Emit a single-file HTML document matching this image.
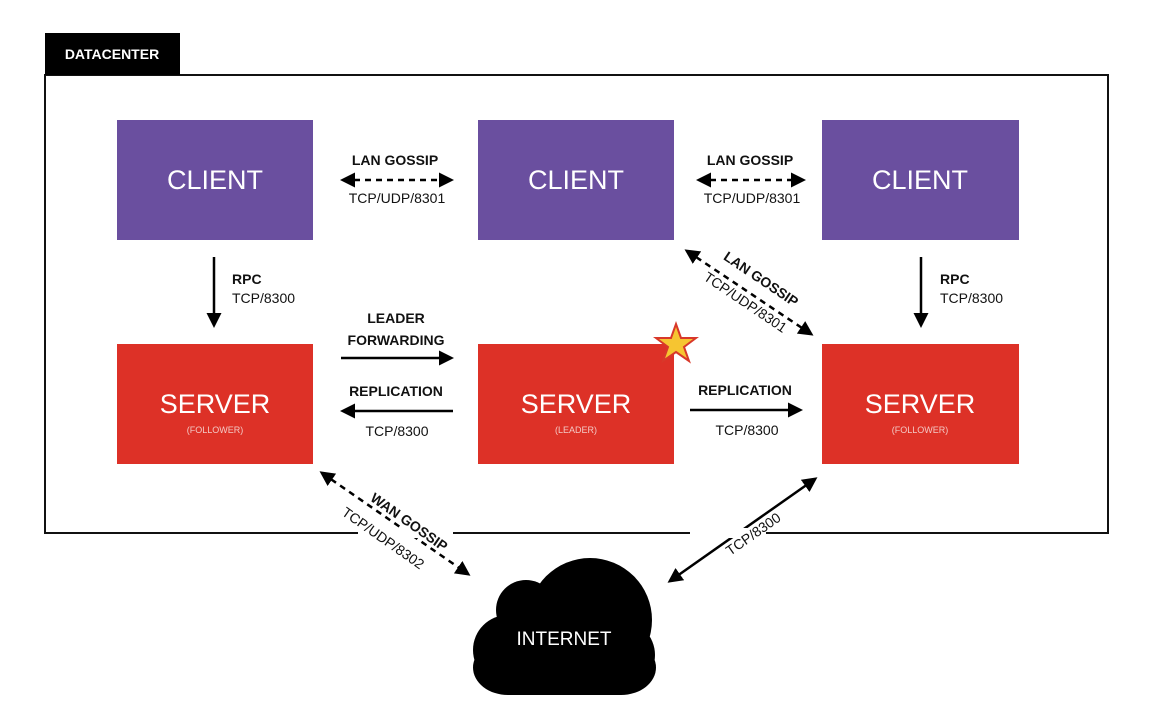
<!DOCTYPE html>
<html><head><meta charset="utf-8"><style>
html,body{margin:0;padding:0;background:#fff;}
svg{display:block;}
text{font-family:"Liberation Sans",sans-serif;}
.b{font-weight:bold;font-size:14px;fill:#111;}
.n{font-size:14px;fill:#111;}
.big{font-size:27px;fill:#fff;}
.sm{font-size:9px;fill:#f3c9c5;}
</style></head><body>
<svg width="1153" height="715" viewBox="0 0 1153 715">
<defs>
<marker id="a" viewBox="0 0 10 10" refX="8" refY="5" markerWidth="6" markerHeight="6" orient="auto-start-reverse"><path d="M0,0L10,5L0,10z" fill="#000"/></marker>
</defs>
<rect x="45" y="75" width="1063" height="458" fill="none" stroke="#111" stroke-width="2"/>
<rect x="45" y="33" width="135" height="42" fill="#000"/>
<text x="112" y="59" text-anchor="middle" font-size="14" font-weight="bold" fill="#fff">DATACENTER</text>
<g fill="#6a4f9f">
<rect x="117" y="120" width="196" height="120"/>
<rect x="478" y="120" width="196" height="120"/>
<rect x="822" y="120" width="197" height="120"/>
</g>
<text class="big" x="215" y="189" text-anchor="middle">CLIENT</text>
<text class="big" x="576" y="189" text-anchor="middle">CLIENT</text>
<text class="big" x="920" y="189" text-anchor="middle">CLIENT</text>
<g fill="#dd3127">
<rect x="117" y="344" width="196" height="120"/>
<rect x="478" y="344" width="196" height="120"/>
<rect x="822" y="344" width="197" height="120"/>
</g>
<text class="big" x="215" y="413" text-anchor="middle">SERVER</text>
<text class="sm" x="215" y="433" text-anchor="middle">(FOLLOWER)</text>
<text class="big" x="576" y="413" text-anchor="middle">SERVER</text>
<text class="sm" x="576" y="433" text-anchor="middle">(LEADER)</text>
<text class="big" x="920" y="413" text-anchor="middle">SERVER</text>
<text class="sm" x="920" y="433" text-anchor="middle">(FOLLOWER)</text>
<polygon points="676,324 681,338 696,338 684,347 689,361 676,352 663,361 668,347 656,338 671,338" fill="#f6c531" stroke="#d8382a" stroke-width="2"/>
<g stroke="#000" stroke-width="2.5" fill="none">
<line x1="343" y1="180" x2="451" y2="180" stroke-dasharray="6,5" marker-start="url(#a)" marker-end="url(#a)"/>
<line x1="699" y1="180" x2="803" y2="180" stroke-dasharray="6,5" marker-start="url(#a)" marker-end="url(#a)"/>
<line x1="214" y1="257" x2="214" y2="325" marker-end="url(#a)"/>
<line x1="921" y1="257" x2="921" y2="325" marker-end="url(#a)"/>
<line x1="341" y1="358" x2="451" y2="358" marker-end="url(#a)"/>
<line x1="453" y1="411" x2="343" y2="411" marker-end="url(#a)"/>
<line x1="690" y1="410" x2="800" y2="410" marker-end="url(#a)"/>
<line x1="687" y1="251" x2="811" y2="334" stroke-dasharray="6,5" marker-start="url(#a)" marker-end="url(#a)"/>
<line x1="322" y1="473" x2="468" y2="574" stroke-dasharray="6,5" marker-start="url(#a)" marker-end="url(#a)"/>
<line x1="670" y1="581" x2="815" y2="479" marker-start="url(#a)" marker-end="url(#a)"/>
</g>
<text class="b" x="395" y="165" text-anchor="middle">LAN GOSSIP</text>
<text class="n" x="397" y="203" text-anchor="middle">TCP/UDP/8301</text>
<text class="b" x="750" y="165" text-anchor="middle">LAN GOSSIP</text>
<text class="n" x="752" y="203" text-anchor="middle">TCP/UDP/8301</text>
<text class="b" x="232" y="284">RPC</text>
<text class="n" x="232" y="303">TCP/8300</text>
<text class="b" x="940" y="284">RPC</text>
<text class="n" x="940" y="303">TCP/8300</text>
<text class="b" x="396" y="323" text-anchor="middle">LEADER</text>
<text class="b" x="396" y="345" text-anchor="middle">FORWARDING</text>
<text class="b" x="396" y="396" text-anchor="middle">REPLICATION</text>
<text class="n" x="397" y="436" text-anchor="middle">TCP/8300</text>
<text class="b" x="745" y="395" text-anchor="middle">REPLICATION</text>
<text class="n" x="747" y="435" text-anchor="middle">TCP/8300</text>
<g transform="translate(755,288) rotate(34)">
<text class="b" x="0" y="-6" text-anchor="middle">LAN GOSSIP</text>
<text class="n" x="0" y="22" text-anchor="middle">TCP/UDP/8301</text>
</g>
<rect x="358" y="528" width="95" height="10" fill="#fff"/>
<rect x="690" y="528" width="76" height="10" fill="#fff"/>
<g transform="translate(393,524) rotate(35)">
<text class="b" x="12" y="-6" text-anchor="middle">WAN GOSSIP</text>
<text class="n" x="0" y="22" text-anchor="middle">TCP/UDP/8302</text>
</g>
<g transform="translate(756,538) rotate(-35)">
<text class="n" x="0" y="0" text-anchor="middle">TCP/8300</text>
</g>
<g fill="#000">
<circle cx="526" cy="610" r="30"/>
<circle cx="590" cy="620" r="62"/>
<circle cx="508" cy="650" r="35"/>
<circle cx="620" cy="655" r="35"/>
<rect x="508" y="620" width="112" height="75" rx="10"/>
<rect x="473" y="640" width="183" height="55" rx="35"/>
</g>
<text x="564" y="645" text-anchor="middle" font-size="19" fill="#fff">INTERNET</text>
</svg>
</body></html>
